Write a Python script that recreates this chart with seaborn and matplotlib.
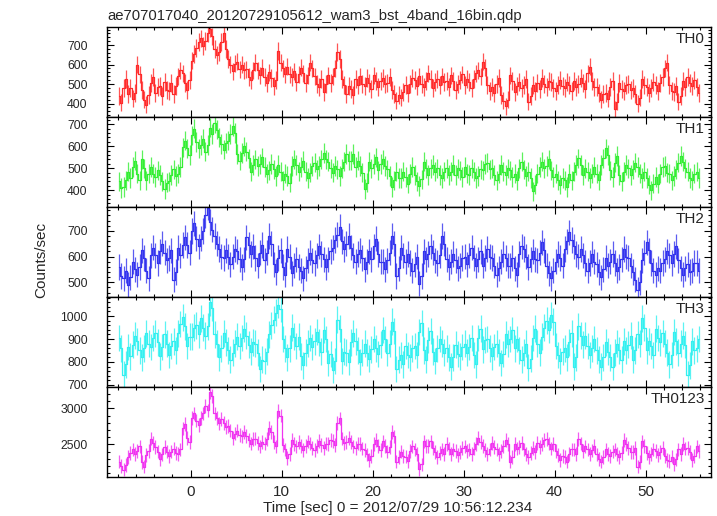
"""
WAM light curve (4 band + toplam), QDP ciktisinin seaborn ile yeniden cizimi.
Cikti: out.png
"""

import numpy as np
import pandas as pd
import matplotlib
matplotlib.use("Agg")
import matplotlib.pyplot as plt
from matplotlib.ticker import MultipleLocator
import seaborn as sns

# ─── Metinler ────────────────────────────────────────────────────────────────
TITLE = "ae707017040_20120729105612_wam3_bst_4band_16bin.qdp"
XLABEL = "Time [sec] 0 = 2012/07/29 10:56:12.234"
YLABEL = "Counts/sec"

# ─── Veri (0.25 s bin, ilk bin merkezi -7.875 s) ─────────────────────────────
T_START = -7.875
BIN = 0.25

th0 = [
    440, 405, 480, 525, 450, 480, 425, 455, 600, 550, 470, 420, 395, 445, 505, 535,
    455, 485, 490, 440, 510, 470, 465, 505, 450, 490, 540, 570, 555, 505, 470, 520,
    620, 655, 685, 715, 735, 695, 720, 760, 785, 745, 680, 650, 665, 715, 760, 680,
    630, 600, 565, 605, 615, 575, 600, 570, 575, 535, 520, 570, 610, 570, 545, 585,
    535, 505, 560, 530, 490, 520, 670, 610, 580, 550, 590, 550, 535, 565, 510, 550,
    585, 555, 505, 545, 610, 580, 540, 500, 485, 525, 460, 500, 545, 505, 540, 580,
    665, 630, 525, 495, 450, 490, 475, 445, 525, 495, 540, 500, 490, 530, 505, 475,
    545, 515, 485, 515, 530, 500, 505, 535, 470, 450, 415, 445, 430, 460, 495, 455,
    500, 530, 520, 490, 540, 500, 485, 515, 555, 525, 480, 510, 525, 495, 540, 510,
    515, 485, 545, 515, 470, 500, 520, 550, 495, 525, 510, 480, 525, 555, 570, 540,
    615, 585, 495, 465, 485, 455, 500, 530, 445, 415, 385, 420, 545, 515, 460, 490,
    510, 480, 495, 525, 410, 440, 495, 465, 505, 475, 530, 500, 485, 515, 510, 480,
    465, 495, 520, 490, 480, 510, 495, 465, 515, 485, 500, 530, 505, 475, 555, 590,
    515, 485, 485, 455, 420, 450, 455, 425, 485, 515, 370, 410, 505, 475, 465, 495,
    500, 470, 480, 450, 400, 430, 525, 495, 485, 455, 480, 510, 495, 465, 505, 535,
    580, 610, 495, 465, 460, 490, 410, 440, 515, 485, 535, 505, 490, 520, 485, 455,
]

th1 = [
    440, 410, 415, 445, 485, 455, 505, 535, 475, 445, 540, 500, 445, 475, 505, 475,
    460, 490, 470, 440, 405, 435, 440, 470, 495, 465, 475, 505, 595, 625, 590, 560,
    650, 680, 620, 590, 605, 635, 575, 605, 685, 655, 705, 675, 640, 610, 585, 615,
    625, 655, 690, 660, 565, 535, 570, 600, 575, 545, 485, 515, 540, 510, 520, 550,
    505, 475, 490, 520, 495, 465, 515, 485, 445, 475, 465, 435, 510, 540, 515, 485,
    505, 535, 485, 455, 480, 510, 525, 495, 510, 540, 570, 540, 530, 500, 480, 510,
    495, 465, 500, 530, 565, 535, 535, 565, 505, 535, 510, 480, 405, 435, 530, 500,
    520, 550, 490, 520, 540, 510, 495, 465, 415, 445, 485, 455, 455, 485, 460, 430,
    475, 505, 470, 440, 420, 450, 530, 500, 470, 500, 515, 485, 500, 470, 455, 485,
    500, 470, 485, 515, 470, 500, 490, 460, 505, 475, 470, 500, 485, 455, 465, 495,
    490, 520, 525, 495, 500, 470, 445, 475, 515, 485, 470, 500, 490, 460, 475, 445,
    500, 530, 495, 465, 485, 455, 395, 425, 475, 505, 530, 500, 510, 540, 490, 460,
    475, 445, 425, 455, 445, 415, 475, 445, 485, 515, 545, 515, 470, 500, 485, 455,
    475, 505, 475, 445, 515, 545, 590, 560, 490, 460, 525, 555, 470, 440, 485, 515,
    500, 470, 495, 525, 505, 475, 455, 485, 455, 425, 400, 430, 460, 430, 475, 505,
    510, 480, 475, 445, 465, 495, 525, 555, 530, 500, 485, 455, 445, 475, 485, 455,
]

th2 = [
    560, 525, 515, 545, 490, 520, 580, 550, 530, 560, 625, 595, 545, 515, 605, 635,
    605, 575, 620, 650, 615, 585, 595, 625, 510, 540, 635, 605, 645, 675, 645, 615,
    700, 730, 670, 640, 670, 700, 760, 790, 735, 705, 680, 650, 630, 600, 595, 625,
    600, 570, 600, 630, 620, 590, 560, 590, 675, 645, 610, 640, 595, 565, 615, 645,
    585, 615, 680, 650, 570, 540, 595, 625, 560, 530, 630, 600, 535, 565, 590, 560,
    545, 515, 555, 585, 615, 585, 575, 605, 640, 610, 590, 560, 590, 620, 635, 665,
    685, 715, 660, 630, 650, 680, 635, 605, 580, 610, 625, 595, 550, 580, 620, 590,
    640, 670, 610, 580, 580, 550, 585, 615, 680, 650, 525, 555, 635, 605, 580, 610,
    575, 545, 570, 600, 495, 525, 620, 590, 610, 640, 615, 585, 575, 605, 680, 650,
    590, 560, 580, 610, 585, 555, 565, 595, 600, 570, 605, 635, 595, 565, 590, 620,
    565, 595, 630, 600, 595, 565, 530, 555, 580, 610, 595, 565, 565, 595, 555, 530,
    610, 640, 630, 600, 560, 590, 620, 590, 585, 615, 655, 625, 565, 535, 515, 545,
    580, 610, 595, 565, 630, 660, 695, 665, 640, 610, 600, 630, 605, 575, 545, 575,
    610, 580, 570, 540, 520, 550, 595, 565, 580, 610, 575, 545, 560, 590, 630, 600,
    595, 565, 540, 510, 470, 500, 585, 615, 655, 625, 575, 545, 530, 555, 545, 575,
    590, 620, 605, 575, 610, 640, 585, 555, 530, 555, 570, 540, 545, 575, 575, 545,
]

th3 = [
    905, 860, 745, 790, 865, 825, 875, 915, 890, 850, 820, 860, 925, 880, 865, 905,
    925, 885, 825, 865, 920, 880, 830, 870, 890, 850, 925, 965, 995, 955, 870, 910,
    910, 950, 960, 920, 990, 950, 915, 955, 1060, 1035, 920, 880, 820, 860, 925, 885,
    850, 810, 840, 880, 910, 870, 905, 945, 915, 875, 845, 885, 880, 840, 770, 810,
    805, 845, 920, 960, 985, 1015, 1050, 1030, 900, 860, 820, 860, 950, 910, 870, 910,
    825, 785, 840, 880, 905, 865, 890, 930, 885, 845, 940, 900, 795, 835, 765, 805,
    985, 945, 805, 845, 840, 800, 885, 925, 890, 850, 800, 840, 880, 840, 815, 855,
    900, 860, 835, 875, 940, 900, 840, 880, 975, 935, 770, 810, 830, 790, 870, 830,
    820, 860, 870, 830, 930, 970, 850, 810, 895, 935, 845, 805, 860, 900, 880, 840,
    860, 820, 780, 820, 875, 835, 825, 865, 880, 840, 865, 905, 830, 790, 905, 945,
    855, 895, 900, 860, 825, 865, 880, 840, 795, 835, 920, 880, 900, 940, 860, 900,
    850, 810, 840, 880, 775, 815, 905, 945, 880, 840, 910, 950, 980, 940, 1005, 975,
    870, 830, 805, 845, 860, 820, 885, 925, 780, 820, 955, 915, 875, 915, 870, 830,
    860, 900, 850, 810, 780, 820, 885, 845, 820, 780, 840, 880, 850, 810, 890, 850,
    875, 915, 810, 850, 920, 880, 990, 950, 850, 890, 870, 830, 945, 905, 885, 925,
    880, 840, 790, 830, 930, 890, 840, 880, 915, 875, 745, 785, 890, 850, 860, 900,
]

th0123 = [
    2260, 2200, 2150, 2210, 2320, 2380, 2430, 2370, 2410, 2470, 2250, 2190, 2350, 2410, 2580, 2520,
    2460, 2400, 2300, 2360, 2460, 2400, 2340, 2400, 2440, 2380, 2370, 2430, 2720, 2780, 2590, 2530,
    2870, 2930, 2830, 2770, 2870, 2930, 3030, 2970, 3230, 3170, 2930, 2870, 2790, 2850, 2800, 2740,
    2750, 2690, 2590, 2650, 2690, 2630, 2610, 2670, 2620, 2560, 2510, 2570, 2580, 2520, 2470, 2530,
    2510, 2570, 2730, 2670, 2530, 2470, 2960, 2900, 2490, 2430, 2310, 2370, 2560, 2500, 2470, 2530,
    2480, 2420, 2480, 2540, 2510, 2450, 2420, 2480, 2550, 2490, 2450, 2510, 2500, 2560, 2550, 2490,
    2800, 2860, 2580, 2520, 2530, 2590, 2530, 2470, 2450, 2510, 2500, 2440, 2420, 2360, 2280, 2340,
    2500, 2560, 2480, 2420, 2540, 2480, 2400, 2460, 2670, 2610, 2260, 2320, 2400, 2340, 2330, 2270,
    2410, 2470, 2430, 2370, 2160, 2220, 2540, 2480, 2480, 2540, 2450, 2390, 2320, 2380, 2430, 2370,
    2500, 2440, 2370, 2430, 2410, 2350, 2390, 2450, 2470, 2410, 2430, 2370, 2440, 2500, 2590, 2530,
    2480, 2420, 2370, 2430, 2520, 2460, 2430, 2370, 2410, 2470, 2560, 2500, 2260, 2320, 2500, 2440,
    2460, 2520, 2430, 2370, 2320, 2380, 2450, 2390, 2520, 2460, 2500, 2560, 2570, 2510, 2440, 2500,
    2410, 2350, 2280, 2340, 2320, 2260, 2370, 2430, 2430, 2370, 2570, 2510, 2410, 2470, 2430, 2370,
    2415, 2475, 2360, 2300, 2260, 2320, 2430, 2370, 2340, 2400, 2430, 2370, 2320, 2380, 2560, 2500,
    2450, 2390, 2390, 2450, 2190, 2250, 2540, 2480, 2380, 2320, 2370, 2430, 2410, 2350, 2390, 2450,
    2340, 2280, 2270, 2330, 2230, 2290, 2430, 2370, 2500, 2440, 2450, 2390, 2280, 2340, 2470, 2410,
]

bands = ["TH0", "TH1", "TH2", "TH3", "TH0123"]
series = [th0, th1, th2, th3, th0123]
errors = [45, 44, 49, 58, 95]          # tipik 1-sigma hata (counts/sec)

# ─── Stil ────────────────────────────────────────────────────────────────────
colors = ["#ff2a2a", "#33ee33", "#3333ee", "#33f0f0", "#f033f0"]
ylims = [(331, 793), (324, 733), (443, 793), (691, 1083), (2046, 3296)]
ymajor = [100, 100, 100, 100, 500]
yminor = [20, 20, 20, 20, 100]

sns.set_style("ticks")
plt.rcParams["font.family"] = ["Liberation Sans", "DejaVu Sans"]

W, H = 717, 516
fig = plt.figure(figsize=(W / 100, H / 100), dpi=100)

LEFT, RIGHT = 107, 711
TOP, PANEL_H = 27, 90

for i, (band, vals) in enumerate(zip(bands, series)):
    top = TOP + PANEL_H * i
    ax = fig.add_axes([LEFT / W, 1 - (top + PANEL_H) / H,
                       (RIGHT - LEFT) / W, PANEL_H / H])

    df = pd.DataFrame({"time": T_START + BIN * np.arange(len(vals)),
                       "rate": vals})
    sns.lineplot(data=df, x="time", y="rate", ax=ax, color=colors[i],
                 lw=0.9, estimator=None, drawstyle="steps-mid")
    ax.errorbar(df["time"], df["rate"], yerr=errors[i], fmt="none",
                ecolor=colors[i], elinewidth=0.9, capsize=0, alpha=0.8)

    ax.set_xlim(-9.2, 57.2)
    ax.set_ylim(*ylims[i])
    ax.set_xlabel("")
    ax.set_ylabel("")

    ax.xaxis.set_major_locator(MultipleLocator(10))
    ax.xaxis.set_minor_locator(MultipleLocator(2))
    ax.yaxis.set_major_locator(MultipleLocator(ymajor[i]))
    ax.yaxis.set_minor_locator(MultipleLocator(yminor[i]))
    ax.tick_params(which="both", direction="in", top=True, right=True,
                   color="black", width=0.8)
    ax.tick_params(which="major", length=5)
    ax.tick_params(which="minor", length=2.5)
    ax.tick_params(axis="y", labelsize=8.8, pad=14)
    ax.tick_params(axis="x", labelsize=11, pad=5.5,
                   labelbottom=(i == len(bands) - 1))
    for sp in ax.spines.values():
        sp.set_linewidth(1.0)
        sp.set_color("black")

    ax.text(1 - 6 / (RIGHT - LEFT), 1 - 5 / PANEL_H, band,
            transform=ax.transAxes, ha="right", va="top", fontsize=11)

fig.text(LEFT / W, 1 - 20 / H, TITLE, ha="left", va="baseline", fontsize=10.7)
fig.text(398 / W, 1 - 512 / H, XLABEL, ha="center", va="baseline", fontsize=11)
fig.text(41 / W, 1 - 260 / H, YLABEL, ha="center", va="center",
         rotation=90, fontsize=11)

fig.savefig("out.png", dpi=100)
plt.close(fig)
